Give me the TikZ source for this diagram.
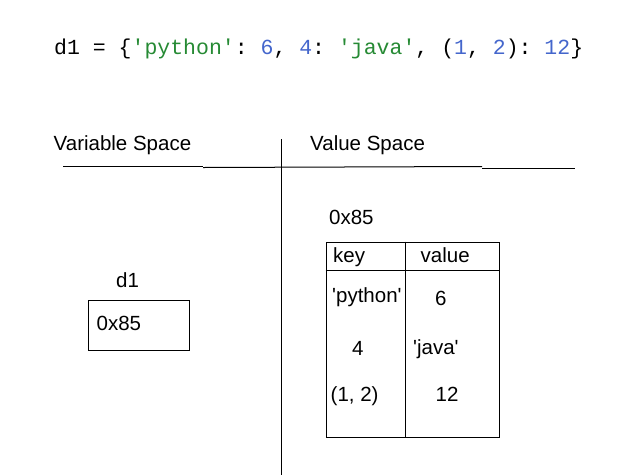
\documentclass[tikz,border=0pt]{standalone}
\usepackage{fontspec}
\newfontfamily\labelfont{Liberation Sans}
\newfontfamily\codefont{Liberation Mono}
\usetikzlibrary{positioning}
\definecolor{strgreen}{RGB}{38,138,52}
\definecolor{numblue}{RGB}{68,102,204}
\tikzset {
  % plain text, placed by its baseline
  txt/.style = {
    anchor = base west,
    inner sep = 0,
    font = \labelfont\fontsize{20.5}{24}\selectfont
  },
  % source line
  code/.style = {
    txt,
    font = \codefont\fontsize{21.5}{25}\selectfont\frenchspacing
  },
  rule/.style = {
    draw = black,
    line width = 1pt
  },
  % memory cell
  cell/.style = {
    rule,
    rectangle,
    anchor = north west,
    inner sep = 0
  }
}

\begin{document}
\begin{tikzpicture}[x = 1pt, y = -1pt]
    \useasboundingbox (0,0) rectangle (621,475);

    \node[code] (source) at (54,54) {d1 = \{\textcolor{strgreen}{'python'}: \textcolor{numblue}{6}, \textcolor{numblue}{4}: \textcolor{strgreen}{'java'}, (\textcolor{numblue}{1}, \textcolor{numblue}{2}): \textcolor{numblue}{12}\}};

    \node[txt] (var-title) at (53.5,150) {Variable Space};
    \node[txt] (val-title) at (310,150) {Value Space};

    \draw[rule] (63,166) -- (203,166);
    \draw[rule] (203,167.5) -- (482,166.5);
    \draw[rule] (482,168) -- (575,168);
    \draw[rule] (281,139) -- (281,475);

    % variable side
    \node[txt] (var-name) at (116,287) {d1};
    \node[cell, minimum width = 101pt, minimum height = 50pt] (var-box) at (87.5,299.5) {};
    \node[txt] (var-ref) at (96.5,330) {0x85};

    % value side
    \node[txt] (obj-id) at (329,224) {0x85};
    \node[cell, minimum width = 173.5pt, minimum height = 195pt] (table) at (325.7,241.5) {};
    \coordinate (head-w) at (325.7,270.5);
    \coordinate (split-n) at (405,241.5);
    \draw[rule] (head-w) -- (head-w -| table.east);
    \draw[rule] (split-n) -- (405,437);

    \node[txt] (key-head) at (333,262) {key};
    \node[txt] (value-head) at (420.5,262) {value};
    \node[txt] (key1) at (332,302) {'python'};
    \node[txt] (value1) at (435,305) {6};
    \node[txt] (key2) at (352,355) {4};
    \node[txt] (value2) at (413,354) {'java'};
    \node[txt] (key3) at (330.5,401) {(1, 2)};
    \node[txt] (value3) at (435.5,401) {12};
\end{tikzpicture}
\end{document}
